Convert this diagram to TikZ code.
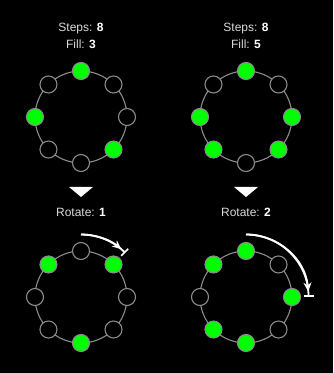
\documentclass[tikz,border=0pt]{standalone}
\usepackage{fontspec}
\setmainfont{Liberation Sans}
\usetikzlibrary{arrows.meta, positioning}
\definecolor{ringgray}{HTML}{8C8C8C}
\definecolor{beatgreen}{HTML}{00FF00}
\definecolor{labelgray}{HTML}{D9D9D9}
\newcommand{\numval}[1]{\textcolor{white}{\bfseries #1}}

\begin{document}
\begin{tikzpicture}[x=1pt, y=1pt,
  pad/.style={circle, draw=ringgray, line width=1.1pt, fill=black, minimum size=17pt, inner sep=0pt},
  hit/.style={pad, fill=beatgreen},
  ring/.style={draw=ringgray, line width=1.1pt},
  lbl/.style={text=labelgray, font=\fontsize{12}{14}\selectfont, inner sep=0pt, anchor=base},
  rot/.style={draw=white, line width=1.8pt}]
\fill[black] (0,0) rectangle (333,373);
% labels
\node[lbl] (steps1) at (81,341.3) {Steps: \numval{8}};
\node[lbl] (fill1) at (81,324.7) {Fill: \numval{3}};
\node[lbl] (steps2) at (246,341.3) {Steps: \numval{8}};
\node[lbl] (fill2) at (246,324.7) {Fill: \numval{5}};
\node[lbl] (rot1) at (81,156.3) {Rotate: \numval{1}};
\node[lbl] (rot2) at (246,156.3) {Rotate: \numval{2}};
% down triangles
\fill[white] (69,186) -- (93,186) -- (81,176) -- cycle;
\fill[white] (234,186) -- (258,186) -- (246,176) -- cycle;
% E(3,8)
\begin{scope}[shift={(81,256)}]
  \draw[ring] (0,0) circle[radius=46];
  \foreach \k/\s in {0/hit,1/pad,2/pad,3/hit,4/pad,5/pad,6/hit,7/pad}
    \node[\s] (a\k) at (90-45*\k:46) {};
\end{scope}
% E(5,8)
\begin{scope}[shift={(246,256)}]
  \draw[ring] (0,0) circle[radius=46];
  \foreach \k/\s in {0/hit,1/pad,2/hit,3/hit,4/pad,5/hit,6/hit,7/pad}
    \node[\s] (b\k) at (90-45*\k:46) {};
\end{scope}
% rotate 1
\begin{scope}[shift={(81,76)}]
  \draw[ring] (0,0) circle[radius=46];
  \foreach \k/\s in {0/pad,1/hit,2/pad,3/pad,4/hit,5/pad,6/pad,7/hit}
    \node[\s] (c\k) at (90-45*\k:46) {};
  \coordinate (cs) at (90:62.5);
  \draw[rot, -{Bar[width=10pt, line width=1.5pt]}] (cs) arc[start angle=90, end angle=45, radius=62.5];
  \draw[rot, -{Stealth[length=9pt, width=8pt]}] (cs) arc[start angle=90, end angle=50, radius=62.5];
\end{scope}
% rotate 2
\begin{scope}[shift={(246,76)}]
  \draw[ring] (0,0) circle[radius=46];
  \foreach \k/\s in {0/hit,1/pad,2/hit,3/pad,4/hit,5/hit,6/pad,7/hit}
    \node[\s] (d\k) at (90-45*\k:46) {};
  \coordinate (ds) at (90:62.5);
  \draw[rot, -{Bar[width=10pt, line width=1.5pt]}] (ds) arc[start angle=90, end angle=0, radius=62.5];
  \draw[rot, -{Stealth[length=9pt, width=8pt]}] (ds) arc[start angle=90, end angle=5, radius=62.5];
\end{scope}
\end{tikzpicture}
\end{document}
